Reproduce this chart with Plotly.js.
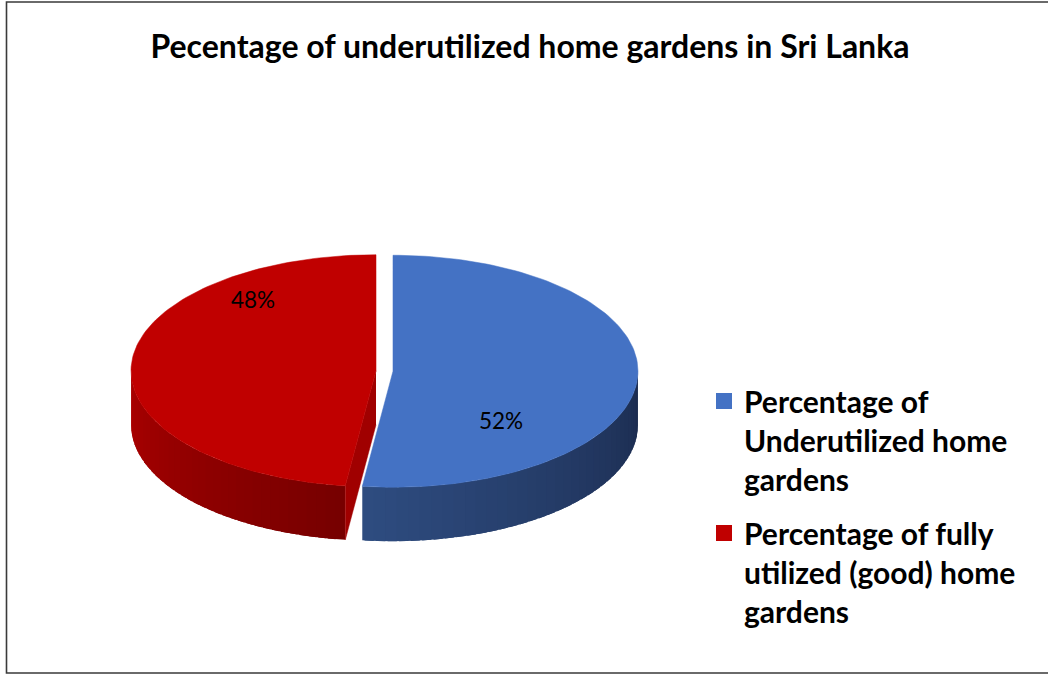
<!DOCTYPE html>
<html><head><meta charset="utf-8">
<script src="https://cdn.plot.ly/plotly-3.0.1.min.js"></script>
<style>html,body{margin:0;padding:0;background:#fff}#chart{width:1048px;height:675px}</style>
</head><body><div id="chart"></div>
<script>
// ---- data ----
const categories = ["Percentage of Underutilized home gardens", "Percentage of fully utilized (good) home gardens"];
const legendLabels = ["Percentage of<br>Underutilized home<br>gardens", "Percentage of fully<br>utilized (good) home<br>gardens"];
const values = [52, 48];
const chartTitle = "Pecentage of underutilized home gardens in Sri Lanka";

// ---- styles ----
const topColors = ["#4472C4", "#C00000"];
const wallLeft = [[46, 76, 128], [172, 0, 0]];
const wallRight = [[27, 43, 78], [118, 0, 0]];
const cutColor = ["#2a4577", "#a00000"];
const labelPos = [[501, 420], [253, 299]];
const FONT = "Lato, 'Open Sans', sans-serif";

// ---- geometry (pixel space) ----
const W = 1048, H = 675;
const CX = 384.5, CY = 371, A = 245, B = 116, DEPTH = 54, EXPLODE = 8.5;
const rad = d => d * Math.PI / 180;
const pt = (cx, cy, th, dy) => [cx + A * Math.sin(rad(th)), cy - B * Math.cos(rad(th)) + (dy || 0)];
const mix = (c1, c2, t) => 'rgb(' + c1.map((v, i) => Math.round(v + (c2[i] - v) * t)).join(',') + ')';

const total = values.reduce((s, v) => s + v, 0);
const slices = [];
let acc = 0;
values.forEach((v, i) => {
  const s = acc / total * 360, e = (acc + v) / total * 360;
  acc += v;
  const mid = (s + e) / 2;
  slices.push({i, s, e, cx: CX + EXPLODE * Math.sin(rad(mid)), cy: CY - EXPLODE * Math.cos(rad(mid)) * B / A});
});

const traces = [];
function poly(pts, color, lw) {
  traces.push({type: 'scatter', mode: 'lines', x: pts.map(p => p[0]), y: pts.map(p => p[1]),
    fill: 'toself', fillcolor: color, line: {color: color, width: lw}, hoverinfo: 'skip', showlegend: false});
}
// walls (front half, 90..270 deg), shaded in overlapping bands
slices.forEach(sl => {
  const lo = Math.max(sl.s, 90), hi = Math.min(sl.e, 270);
  if (hi <= lo) return;
  const N = 36, step = (hi - lo) / N;
  for (let k = 0; k < N; k++) {
    const a0 = lo + step * k, a1 = Math.min(hi, a0 + step * 1.8);
    const pts = [];
    for (let j = 0; j <= 4; j++) pts.push(pt(sl.cx, sl.cy, a0 + (a1 - a0) * j / 4));
    for (let j = 4; j >= 0; j--) pts.push(pt(sl.cx, sl.cy, a0 + (a1 - a0) * j / 4, DEPTH));
    const t = (a0 + step / 2 - lo) / (hi - lo); // 0 = right end, 1 = left end
    poly(pts, mix(wallRight[sl.i], wallLeft[sl.i], t), 0);
  }
});
// visible radial cut faces
slices.forEach(sl => {
  const faces = [];
  if (sl.s > 90 && sl.s < 270) faces.push(sl.s);
  if (sl.e < 360 && (sl.e < 90 || sl.e > 270)) faces.push(sl.e);
  faces.forEach(th => {
    const p = pt(sl.cx, sl.cy, th);
    poly([[sl.cx, sl.cy], p, [p[0], p[1] + DEPTH], [sl.cx, sl.cy + DEPTH]], cutColor[sl.i], 0.5);
  });
});
// top faces
slices.forEach(sl => {
  const pts = [[sl.cx, sl.cy]];
  const n = Math.ceil((sl.e - sl.s) / 1.5);
  for (let j = 0; j <= n; j++) pts.push(pt(sl.cx, sl.cy, sl.s + (sl.e - sl.s) * j / n));
  pts.push([sl.cx, sl.cy]);
  poly(pts, topColors[sl.i], 0.5);
});
// legend entries
values.forEach((v, i) => {
  traces.push({type: 'scatter', mode: 'markers', x: [null], y: [null], name: '<b>' + legendLabels[i] + '</b>',
    legendgroup: 'g' + i, marker: {symbol: 'square', size: 17, color: topColors[i]}, hoverinfo: 'skip'});
});

const annotations = slices.map(sl => ({
  x: labelPos[sl.i][0], y: labelPos[sl.i][1], xref: 'x', yref: 'y', showarrow: false,
  text: Math.round(values[sl.i] / total * 100) + '%', font: {family: FONT, size: 22.5, color: '#000'}
}));

const layout = {
  width: W, height: H, margin: {l: 0, r: 0, t: 0, b: 0},
  paper_bgcolor: '#fff', plot_bgcolor: '#fff',
  xaxis: {range: [0, W], visible: false, fixedrange: true},
  yaxis: {range: [H, 0], visible: false, fixedrange: true},
  title: {text: '<b>' + chartTitle + '</b>', font: {family: FONT, size: 32, color: '#000'},
    x: 530 / W, xanchor: 'center', y: 1 - 47 / H, yanchor: 'middle'},
  showlegend: true,
  legend: {x: 704 / W, xanchor: 'left', y: 1 - 375 / H, yanchor: 'top', valign: 'top',
    font: {family: FONT, size: 30, color: '#000'}, bgcolor: 'rgba(0,0,0,0)',
    tracegroupgap: 12, traceorder: 'grouped'},
  annotations: annotations,
  shapes: [{type: 'rect', xref: 'paper', yref: 'paper', x0: 6.5 / W, x1: 1.02, y0: 1 - 673 / H, y1: 1 - 2 / H,
    line: {color: '#3a3a3a', width: 1.6}, fillcolor: 'rgba(0,0,0,0)'}]
};
Plotly.newPlot('chart', traces, layout, {displayModeBar: false, staticPlot: true});
</script>
</body></html>
